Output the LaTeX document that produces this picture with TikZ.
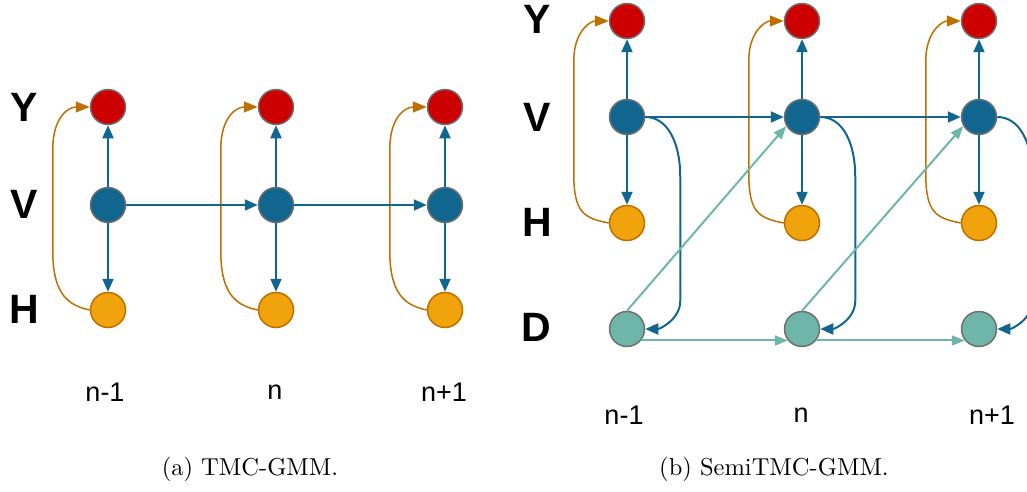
\documentclass[tikz,border=0pt]{standalone}
\usepackage{fontspec}
\usepackage{graphicx}
\newfontfamily\arial{Liberation Sans}
\usetikzlibrary{arrows.meta,calc}
\definecolor{cred}{HTML}{CC0000}
\definecolor{cblue}{HTML}{10668F}
\definecolor{corange}{HTML}{F0A30A}
\definecolor{corangeline}{HTML}{BD7000}
\definecolor{cteal}{HTML}{6EB6A9}
\definecolor{cgray}{HTML}{6F6F6F}
\begin{document}
\begin{tikzpicture}[x=1pt,y=-1pt,
  circ/.style={circle, minimum size=35pt, inner sep=0pt, line width=1.5pt},
  ynode/.style={circ, fill=cred, draw=cgray},
  vnode/.style={circ, fill=cblue, draw=cgray},
  hnode/.style={circ, fill=corange, draw=corangeline},
  dnode/.style={circ, fill=cteal, draw=cgray},
  bluearrow/.style={-{Triangle[length=13pt,width=11pt]}, draw=cblue, line width=2pt},
  orangearrow/.style={-{Triangle[length=14pt,width=11pt]}, draw=corangeline, line width=1.5pt},
  tealarrow/.style={-{Triangle[length=13pt,width=10pt]}, draw=cteal, line width=2pt},
  rowlbl/.style={font=\arial\bfseries\fontsize{41}{41}\selectfont, inner sep=0pt},
  collbl/.style={font=\arial\fontsize{27}{27}\selectfont, inner sep=0pt},
  caption/.style={inner sep=0pt, anchor=base}
]
\useasboundingbox (0,0) rectangle (1027,492);
\clip (0,0) rectangle (1027,492);

% ---------- (a) TMC-GMM ----------
\node[rowlbl] (aLY) at (24,107) {Y};
\node[rowlbl] (aLV) at (24,204) {V};
\node[rowlbl] (aLH) at (24,309) {H};

\foreach \i/\x in {1/108,2/276,3/445} {
  \node[ynode] (aY\i) at (\x,107) {};
  \node[vnode] (aV\i) at (\x,205) {};
  \node[hnode] (aH\i) at (\x,310) {};
}
\foreach \i in {1,2,3} {
  \draw[bluearrow] (aV\i) -- (aY\i);
  \draw[bluearrow] (aV\i) -- (aH\i);
  \draw[orangearrow] (aH\i.west) .. controls +(-25,-5) and +(0,40) .. ($(aH\i.west)+(-37,-60)$)
     -- ($(aY\i.west)+(-37,43)$) .. controls +(0,-35) and +(-20,0) .. (aY\i.west);
}
\draw[bluearrow] (aV1) -- (aV2);
\draw[bluearrow] (aV2) -- (aV3);

\node[collbl] (aN1) at (105,392) {n-1};
\node[collbl] (aN2) at (275,392) {n};
\node[collbl] (aN3) at (444,392) {n+1};
\node[caption] (capA) at (250,475) {\scalebox{2.45}{\fontsize{10}{12}\selectfont (a) TMC-GMM.}};

% ---------- (b) SemiTMC-GMM ----------
\node[rowlbl] (bLY) at (537,19) {Y};
\node[rowlbl] (bLV) at (537,117) {V};
\node[rowlbl] (bLH) at (537,222) {H};
\node[rowlbl] (bLD) at (536,327) {D};

\foreach \i/\x in {1/627,2/802,3/979} {
  \node[ynode] (bY\i) at (\x,21) {};
  \node[vnode] (bV\i) at (\x,117) {};
  \node[hnode] (bH\i) at (\x,223) {};
  \node[dnode] (bD\i) at (\x,329) {};
}
\foreach \i in {1,2,3} {
  \draw[bluearrow] (bV\i) -- (bY\i);
  \draw[bluearrow] (bV\i) -- (bH\i);
  \draw[orangearrow] (bH\i.west) .. controls +(-25,-5) and +(0,40) .. ($(bH\i.west)+(-35,-50)$)
     -- ($(bY\i.west)+(-35,40)$) .. controls +(0,-30) and +(-18,0) .. (bY\i.west);
  \draw[bluearrow] (bV\i.east) .. controls +(22,0) and +(0,-35) .. ($(bV\i.east)+(35,60)$)
     -- ($(bD\i.east)+(35,-28)$) .. controls +(0,18) and +(15,0) .. (bD\i.east);
}
\foreach \i/\j in {1/2,2/3} {
  \draw[bluearrow] (bV\i) -- (bV\j);
  \draw[tealarrow] (bD\i.-39) -- (bD\j.-141);
  \draw[tealarrow] (bD\i.north) -- (bV\j.-150);
}

\node[collbl] (bN1) at (624,415) {n-1};
\node[collbl] (bN2) at (801,415) {n};
\node[collbl] (bN3) at (992,415) {n+1};
\node[caption] (capB) at (774,475) {\scalebox{2.45}{\fontsize{10}{12}\selectfont (b) SemiTMC-GMM.}};
\end{tikzpicture}
\end{document}
